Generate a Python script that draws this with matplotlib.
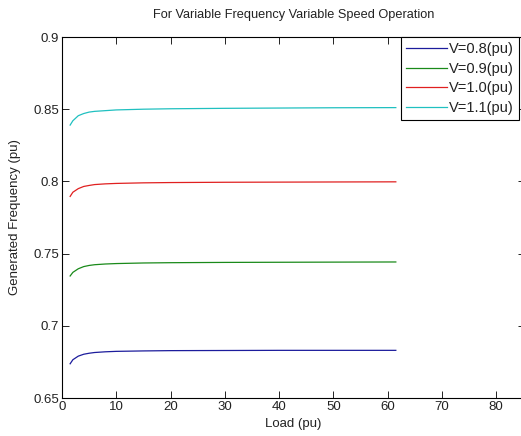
import matplotlib
matplotlib.use("Agg")
import matplotlib.pyplot as plt

plt.rcParams['font.family'] = ['Liberation Sans', 'DejaVu Sans']

load = [1.5, 2, 3, 4, 5, 6, 8, 10, 15, 20, 30, 40, 50, 61.5]
f_08 = [0.6737, 0.6765, 0.6790, 0.6803, 0.6810, 0.6815, 0.6820, 0.6823, 0.6826, 0.6828, 0.6829, 0.6830, 0.6830, 0.6830]
f_09 = [0.7345, 0.7370, 0.7395, 0.7410, 0.7418, 0.7423, 0.7428, 0.7431, 0.7435, 0.7437, 0.7439, 0.7440, 0.7441, 0.7442]
f_10 = [0.7896, 0.7925, 0.7950, 0.7965, 0.7972, 0.7978, 0.7983, 0.7986, 0.7990, 0.7992, 0.7994, 0.7995, 0.7996, 0.7997]
f_11 = [0.8390, 0.8420, 0.8455, 0.8470, 0.8480, 0.8485, 0.8490, 0.8495, 0.8500, 0.8503, 0.8506, 0.8508, 0.8510, 0.8511]
labels = ['V=0.8(pu)', 'V=0.9(pu)', 'V=1.0(pu)', 'V=1.1(pu)']
colors = ['#1c1c9c', '#1a8a1a', '#e02020', '#20c0c0']

fig = plt.figure(figsize=(5.21, 4.36), dpi=100)
ax = fig.add_axes([62/521, 1-398/436, (525-62)/521, 361/436])

for y, lab, c in zip([f_08, f_09, f_10, f_11], labels, colors):
    ax.plot(load, y, color=c, lw=0.9, label=lab)

ax.set_xlim(0, 85.3)
ax.set_ylim(0.65, 0.9)
ax.set_xticks(range(0, 81, 10))
ax.set_yticks([0.65, 0.7, 0.75, 0.8, 0.85, 0.9])
ax.set_yticklabels(['0.65', '0.7', '0.75', '0.8', '0.85', '0.9'])
ax.tick_params(direction='in', top=True, right=True, length=5, width=0.7, labelsize=9.5, pad=2, colors='#222222')
for s in ax.spines.values():
    s.set_linewidth(0.8)
ax.set_xlabel('Load (pu)', fontsize=9.5, labelpad=4, color='#222222')
ax.set_ylabel('Generated Frequency (pu)', fontsize=9.5, labelpad=9, color='#222222')
ax.set_title('For Variable Frequency Variable Speed Operation', fontsize=9.2, pad=14, color='#222222')

leg = ax.legend(loc='upper right', bbox_to_anchor=(519/521, 1-37/436), bbox_transform=fig.transFigure,
                fontsize=10.5, frameon=True, fancybox=False, handlelength=2.85, handletextpad=0.12,
                borderpad=0.35, labelspacing=0.38, borderaxespad=0, framealpha=1)
for t in leg.get_texts():
    t.set_color('#222222')
leg.get_frame().set_edgecolor('black')
leg.get_frame().set_linewidth(0.8)

fig.savefig('out.png', dpi=100)
